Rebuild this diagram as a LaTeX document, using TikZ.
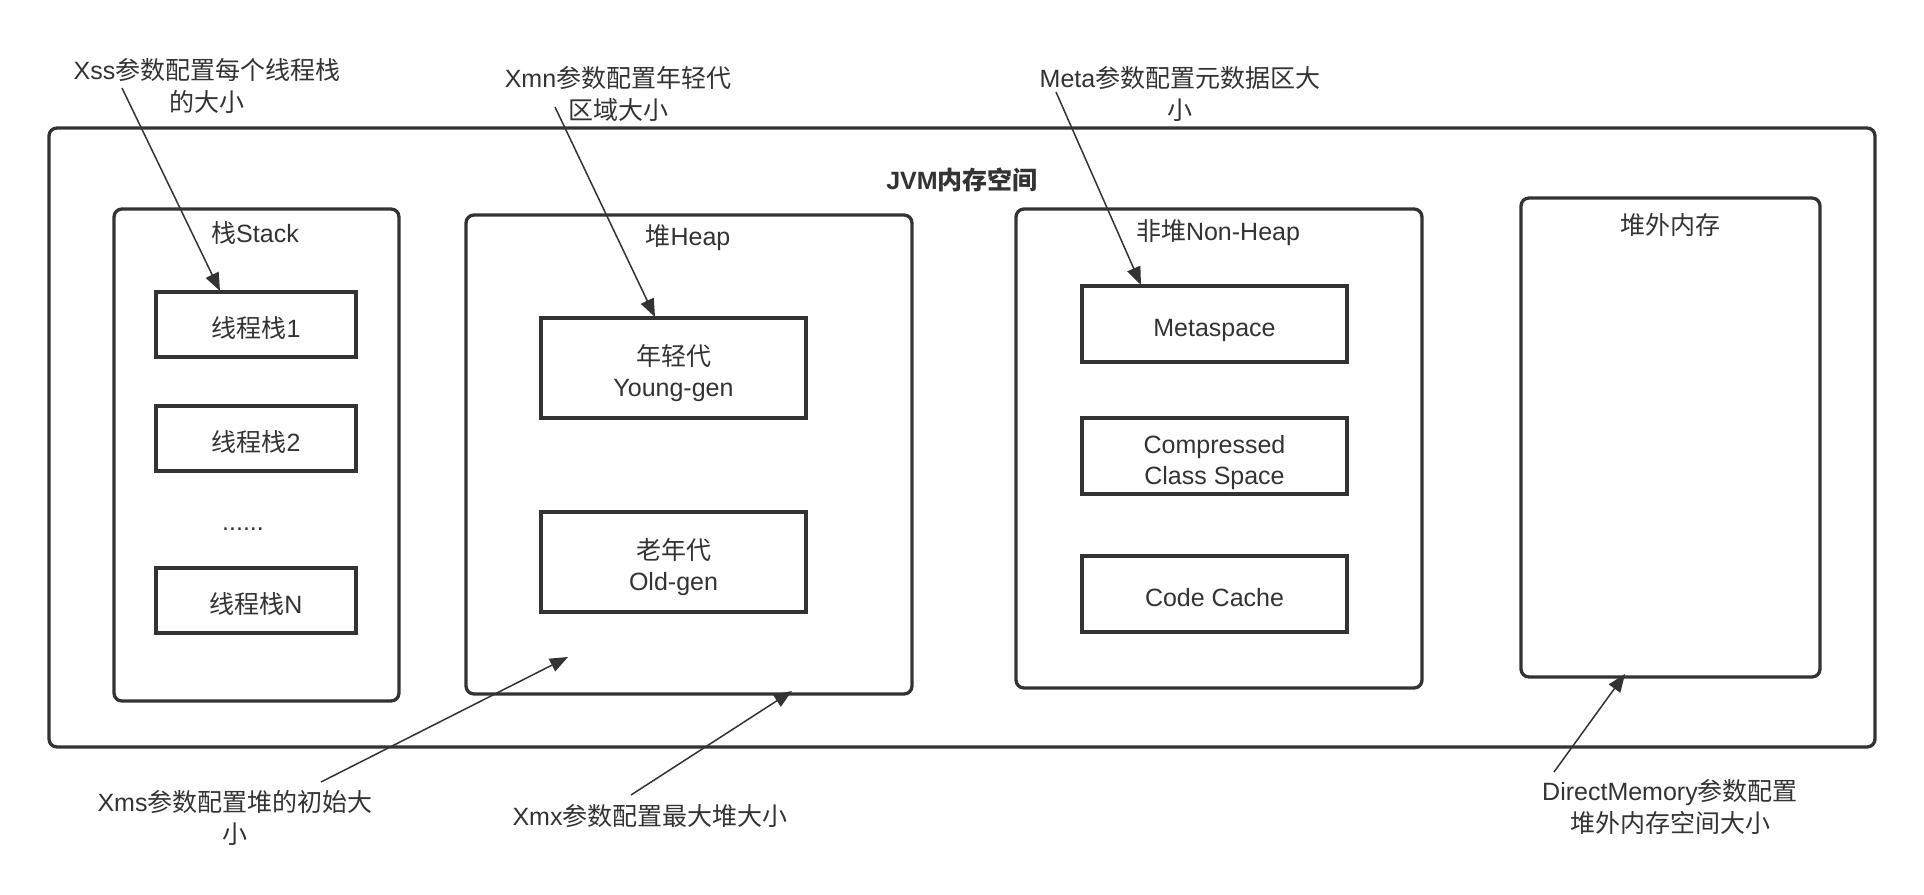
\documentclass[tikz,border=0pt]{standalone}
\usepackage{fontspec}
\setmainfont{Liberation Sans}
\newfontfamily\cjkfont{Noto Sans CJK SC}
\newcommand\zh[1]{{\cjkfont #1}}
\newcommand\st{\rule{0pt}{31pt}}
\newcommand\sd{\rule[-6pt]{0pt}{6pt}}
\usetikzlibrary{arrows.meta}
\definecolor{ink}{HTML}{333333}
\begin{document}
\begin{tikzpicture}[x=1pt,y=-1pt,
  roundbox/.style={draw=ink, line width=3.3pt, rounded corners=8pt, inner sep=0pt},
  sharpbox/.style={draw=ink, line width=3.3pt, inner sep=0pt, minimum width=265pt,
     text=ink, font=\fontsize{25}{31}\selectfont, align=center},
  txt/.style={text=ink, font=\fontsize{25}{32}\selectfont, align=center, inner sep=0pt},
  arr/.style={draw=ink, line width=1.5pt, -{Triangle[length=18pt,width=14pt]}}]
\useasboundingbox (0,0) rectangle (1924,894);
\fill[white] (0,0) rectangle (1924,894);

% outer container
\node[roundbox, minimum width=1826pt, minimum height=619pt] (jvm) at (962,437.5) {};
\node[txt, font=\fontsize{25}{32}\selectfont\bfseries] (jvmt) at (962,180) {JVM\zh{内存空间}};

% stack
\node[roundbox, minimum width=285pt, minimum height=492pt] (stack) at (256.5,455) {};
\node[txt] (stackt) at (255,233) {\zh{栈}Stack};
\node[sharpbox, minimum width=200pt, minimum height=65pt] (t1) at (256,324.5) {\st\sd\zh{线程栈}1};
\node[sharpbox, minimum width=200pt, minimum height=65pt] (t2) at (256,438.5) {\st\sd\zh{线程栈}2};
\node[txt] (dots) at (243,529) {......};
\node[sharpbox, minimum width=200pt, minimum height=65pt] (tn) at (256,600.5) {\st\sd\zh{线程栈}N};

% heap
\node[roundbox, minimum width=446pt, minimum height=479pt] (heap) at (689,454.5) {};
\node[txt] (heapt) at (688,238) {\zh{堆}Heap};
\node[sharpbox, minimum height=100pt] (young) at (673.5,368) {\st\zh{年轻代}\\Young-gen\sd};
\node[sharpbox, minimum height=100pt] (old) at (673.5,562) {\st\zh{老年代}\\Old-gen\sd};

% non-heap
\node[roundbox, minimum width=406pt, minimum height=479pt] (nonheap) at (1219,448.5) {};
\node[txt] (nonheapt) at (1218,233) {\zh{非堆}Non-Heap};
\node[sharpbox, minimum height=76pt] (meta) at (1214.5,324) {\st\sd Metaspace};
\node[sharpbox, minimum height=76pt] (ccs) at (1214.5,456) {\st Compressed\\Class Space\sd};
\node[sharpbox, minimum height=76pt] (cc) at (1214.5,594) {\st\sd Code Cache};

% off-heap
\node[roundbox, minimum width=299pt, minimum height=479pt] (offheap) at (1670.5,437.5) {};
\node[txt] (offheapt) at (1670,225) {\zh{堆外内存}};

% annotations
\node[txt] (xss) at (207,85.5) {Xss\zh{参数配置每个线程栈}\\\zh{的大小}};
\node[txt] (xmn) at (618,93.5) {Xmn\zh{参数配置年轻代}\\\zh{区域大小}};
\node[txt] (metal) at (1180,94) {Meta\zh{参数配置元数据区大}\\\zh{小}};
\node[txt] (xms) at (235,817.5) {Xms\zh{参数配置堆的初始大}\\\zh{小}};
\node[txt] (xmx) at (650,816) {Xmx\zh{参数配置最大堆大小}};
\node[txt] (dm) at (1670,807) {DirectMemory\zh{参数配置}\\\zh{堆外内存空间大小}};

% arrow end points
\coordinate (xssA) at (122,88);   \coordinate (xssB) at (220,291);
\coordinate (xmnA) at (555,107);  \coordinate (xmnB) at (655,317);
\coordinate (metaA) at (1056,92); \coordinate (metaB) at (1141,285);
\coordinate (xmsA) at (321,782);  \coordinate (xmsB) at (568,657);
\coordinate (xmxA) at (631,795);  \coordinate (xmxB) at (792,691);
\coordinate (dmA) at (1554,772);  \coordinate (dmB) at (1625,674);

\draw[arr] (xssA) -- (xssB);
\draw[arr] (xmnA) -- (xmnB);
\draw[arr] (metaA) -- (metaB);
\draw[arr] (xmsA) -- (xmsB);
\draw[arr] (xmxA) -- (xmxB);
\draw[arr] (dmA) -- (dmB);
\end{tikzpicture}
\end{document}
